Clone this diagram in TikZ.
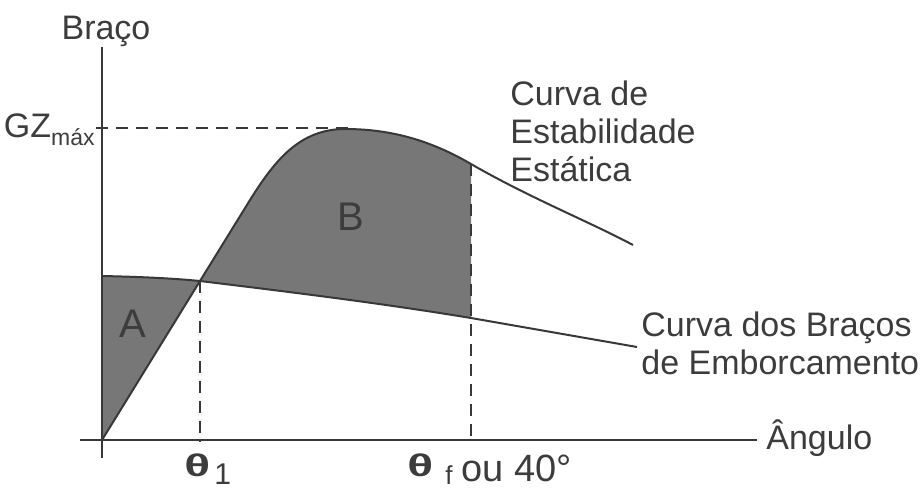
\documentclass[tikz,border=0pt]{standalone}
\usepackage{fontspec}
\setmainfont{Liberation Sans}
\definecolor{linegray}{HTML}{383838}
\definecolor{areagray}{HTML}{777777}
\definecolor{textgray}{HTML}{3C3C3C}
\newcommand{\tetasym}{{\fontsize{16.5}{16.5}\selectfont\bfseries\scalebox{1.45}[0.95]{θ}}}
\begin{document}
\begin{tikzpicture}[x=0.5pt,y=-0.5pt,
  axisline/.style={draw=linegray,line width=1pt},
  curveline/.style={draw=linegray,line width=1pt},
  guide/.style={draw=linegray,line width=1pt,dash pattern=on 6pt off 4pt},
  area/.style={fill=areagray},
  lbl/.style={text=textgray,inner sep=0pt,font=\fontsize{17}{19}\selectfont}]
\useasboundingbox (0,0) rectangle (922,488);
\coordinate (O) at (102,440);
\coordinate (ytop) at (102,47);
\coordinate (ybot) at (102,458);
\coordinate (xleft) at (80,440);
\coordinate (xright) at (757,440);
\coordinate (T1) at (200,281);
\coordinate (G1) at (250,200);
\coordinate (Peak) at (345,129);
\coordinate (TF) at (471,164);
\coordinate (GE) at (633,245);
\coordinate (H0) at (102,276);
\coordinate (HF) at (471,318);
\coordinate (HE) at (637,347);
\coordinate (gzaxis) at (96,128);
\coordinate (gzend) at (350,128);
\coordinate (t1axis) at (200,442);
\coordinate (tfaxis) at (471,442);
\fill[area] (H0) .. controls (150,277) and (180,279) .. (T1) -- (O) -- cycle;
\fill[area] (T1) -- (G1) .. controls (275,160) and (300,129) .. (Peak)
  .. controls (390,129) and (430,140) .. (TF) -- (HF)
  .. controls (380,303) and (290,292) .. (T1) -- cycle;
\draw[guide] (gzaxis) -- (gzend);
\draw[guide] (T1) -- (t1axis);
\draw[guide] (TF) -- (tfaxis);
\draw[axisline] (ybot) -- (ytop);
\draw[axisline] (xleft) -- (xright);
\draw[curveline] (O) -- (T1) -- (G1) .. controls (275,160) and (300,129) .. (Peak)
  .. controls (390,129) and (430,140) .. (TF) .. controls (530,198) and (590,222) .. (GE);
\draw[curveline] (H0) .. controls (150,277) and (180,279) .. (T1)
  .. controls (290,292) and (380,303) .. (HF) -- (HE);
\node[lbl,anchor=base] (braco) at (106,39) {Braço};
\node[lbl,anchor=base west] (angulo) at (766,449) {Ângulo};
\node[lbl,anchor=base east] (gzmax) at (95,137) {GZ\raisebox{-4pt}{\fontsize{11.5}{11.5}\selectfont máx}};
\node[lbl,anchor=base,font=\fontsize{20}{20}\selectfont] (areaA) at (133,337) {A};
\node[lbl,anchor=base,font=\fontsize{20}{20}\selectfont] (areaB) at (351,230) {B};
\node[lbl,anchor=north west,align=left] (gzcurve) at (510,80) {Curva de\\Estabilidade\\Estática};
\node[lbl,anchor=north west,align=left] (hcurve) at (641,311) {Curva dos Braços\\de Emborcamento};
\node[lbl,anchor=base west] (theta1) at (184,476) {\tetasym\hspace{2pt}\raisebox{-4pt}{\fontsize{15}{15}\selectfont 1}};
\node[lbl,anchor=base west] (thetaf) at (407,481) {\raisebox{2.5pt}{\tetasym}\hspace{6pt}\raisebox{-1.5pt}{\fontsize{13}{13}\selectfont f}\hspace{4.5pt}{\fontsize{19}{19}\selectfont ou 40°}};
\end{tikzpicture}
\end{document}
